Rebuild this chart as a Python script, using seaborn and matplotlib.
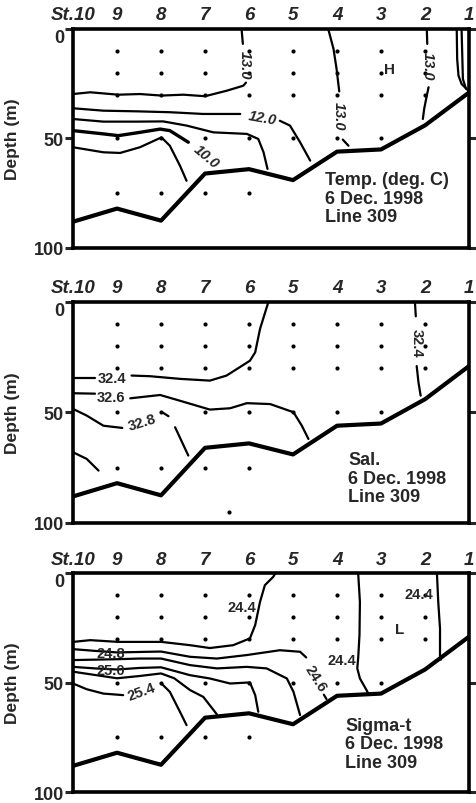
import matplotlib
matplotlib.use("Agg")
import matplotlib.pyplot as plt
import pandas as pd
import seaborn as sns

# ---------------- data ----------------
stations = [10, 9, 8, 7, 6, 5, 4, 3, 2, 1]
station_labels = ["St.10", "9", "8", "7", "6", "5", "4", "3", "2", "1"]
depth_ticks = [0, 50, 100]
bottom_depth = [88, 82, 87.5, 66, 64, 69, 56, 55, 44, 29]

sample_station = [9, 9, 9, 9, 9, 8, 8, 8, 8, 8, 7, 7, 7, 7, 7, 6, 6, 6, 6, 6,
                  5, 5, 5, 5, 4, 4, 4, 4, 3, 3, 3, 3, 2, 2, 2]
sample_depth = [10, 20, 30, 50, 75, 10, 20, 30, 50, 75, 10, 20, 30, 50, 75, 10, 20, 30, 50, 75,
                10, 20, 30, 50, 10, 20, 30, 50, 10, 20, 30, 50, 10, 20, 30]
sal_extra_station = [6.45]
sal_extra_depth = [95]

# Temperature contours (station position, depth m)
t13a_st = [10, 9.61, 8.97, 8.48, 7.99, 7.49, 7.0, 6.51, 6.13, 6.07]
t13a_d = [29.7, 28.9, 30.0, 29.7, 30.4, 30.0, 30.7, 28.2, 25.9, 24.5]
t13b_st = [6.14, 6.17]
t13b_d = [6.8, 0]
t13c_st = [4.2, 4.08, 4.01, 3.95]
t13c_d = [0, 9.1, 18.3, 28.5]
t13d_st = [3.87, 3.74]
t13d_d = [50.5, 53.3]
t13e_st = [1.96, 1.95]
t13e_d = [0, 6.8]
t13f_st = [1.92, 1.96, 2.02, 2.05]
t13f_d = [26.6, 30.4, 36.5, 41.1]
t_edge1_st = [1.28, 1.27, 1.24, 1.17, 1.07, 1.0]
t_edge1_d = [0, 13.7, 21.3, 25.1, 27.1, 28.5]
t_edge2_st = [1.17, 1.14, 1.07]
t_edge2_d = [0, 22.8, 27.3]
t12a_st = [10, 9.31, 8.55, 7.8, 7.04, 6.2]
t12a_d = [36.2, 37.3, 37.6, 38.0, 38.8, 38.8]
t12b_st = [5.3, 5.07, 4.84, 4.61]
t12b_d = [41.9, 44.1, 51.7, 60.1]
t11_st = [10, 9.31, 8.55, 7.95, 7.42, 6.81, 6.05, 5.79, 5.67, 5.58]
t11_d = [41.1, 42.3, 42.3, 42.2, 44.1, 47.2, 47.9, 50.2, 56.3, 63.9]
t10_st = [10, 9.31, 8.97, 8.48, 8.02, 7.8, 7.38]
t10_d = [46.4, 47.9, 48.7, 47.2, 45.7, 46.4, 51.7]
t9_st = [10, 9.31, 8.93, 8.48, 7.99, 7.8, 7.57, 7.42]
t9_d = [54.0, 56.3, 56.6, 54.0, 49.5, 53.3, 62.4, 69.3]

temp_label_text = ["13.0", "13.0", "13.0", "12.0", "10.0", "H"]
temp_label_st = [6.1, 3.96, 1.94, 5.69, 6.98, 2.8]
temp_label_d = [16, 39.6, 16.7, 40.4, 58.2, 18.3]

# Salinity contours
s324a_st = [10, 9.5]
s324a_d = [34.2, 34.2]
s324b_st = [8.67, 8.25, 7.57, 6.89, 6.51, 5.98, 5.86, 5.75, 5.56]
s324b_d = [33.3, 33.6, 34.8, 35.6, 33.3, 26.6, 22.8, 12.2, 0]
s326a_st = [10, 9.5]
s326a_d = [41.3, 41.5]
s326b_st = [8.7, 8.02, 7.57, 6.89, 6.43, 6.05, 5.52, 4.99, 4.8, 4.65]
s326b_d = [43.6, 42.1, 44.7, 48.7, 48.1, 45.8, 46.2, 49.9, 56.0, 62.0]
s328a_st = [10, 9.69, 9.31, 8.88]
s328a_d = [48.4, 51.4, 56.0, 57.0]
s328b_st = [7.95, 7.83]
s328b_d = [50.2, 51.7]
s328c_st = [7.68, 7.38]
s328c_d = [56.7, 69.5]
s330_st = [10, 9.69, 9.42]
s330_d = [68.0, 71.0, 76.3]
s324c_st = [2.23, 2.21]
s324c_d = [0, 6.5]
s324d_st = [2.19, 2.15, 2.1]
s324d_d = [29.0, 36.3, 42.4]

sal_label_text = ["32.4", "32.6", "32.8", "32.4"]
sal_label_st = [9.12, 9.14, 8.42, 2.19]
sal_label_d = [34.2, 42.8, 54.1, 18.2]

# Sigma-t contours
g244a_st = [10, 9.61, 8.97, 7.99, 7.34, 6.89, 6.36, 5.98, 5.86, 5.75, 5.64, 5.45, 5.4]
g244a_d = [31.4, 30.6, 31.4, 31.4, 32.9, 34.2, 32.9, 29.8, 23.7, 13.1, 5.5, 1.7, 0]
g244b_st = [3.52, 3.48, 3.49, 3.52, 3.54, 3.48, 3.33, 3.29]
g244b_d = [0, 13.1, 28.3, 38.9, 43.5, 48.1, 53.4, 55.0]
g244c_st = [1.73, 1.70, 1.66, 1.66, 1.64]
g244c_d = [0, 13.1, 25.3, 37.4, 39.5]
g246a_st = [10, 9.5, 9.0, 8.5, 8.0, 7.34, 6.73, 6.05, 5.3, 4.84, 4.7]
g246a_d = [34.7, 35.5, 36.2, 36.0, 35.8, 38.2, 39.0, 37.4, 35.2, 35.9, 38.5]
g246b_st = [4.3, 4.24]
g246b_d = [55.5, 57.5]
g248_st = [10, 9.5, 9.0, 8.5, 8.0, 7.34, 6.73, 6.05, 5.6, 5.14, 4.99, 4.84]
g248_d = [39.7, 39.5, 39.3, 39.0, 39.0, 42.0, 43.5, 42.8, 43.5, 48.1, 54.2, 64.8]
g250_st = [10, 9.5, 9.0, 8.5, 8.0, 7.34, 6.89, 6.43, 5.98, 5.86, 5.79]
g250_d = [42.8, 43.5, 44.0, 43.3, 43.0, 46.6, 48.1, 50.4, 49.9, 55.7, 63.3]
g252_st = [10, 9.5, 9.0, 8.5, 8.0, 7.7, 7.34, 7.04, 6.73]
g252_d = [45.0, 46.5, 48.0, 47.0, 45.8, 48.0, 53.4, 56.5, 64.5]
g254a_st = [10, 9.69, 9.31, 8.86]
g254a_d = [50.4, 53.0, 55.0, 55.7]
g254b_st = [7.99, 7.8, 7.57, 7.42]
g254b_d = [50.4, 54.2, 63.3, 69.4]

sig_label_text = ["24.4", "24.4", "24.4", "24.8", "25.0", "25.4", "24.6", "L"]
sig_label_st = [6.16, 3.9, 2.14, 9.15, 9.15, 8.44, 4.5, 2.57]
sig_label_d = [15.3, 39.7, 9.6, 36.6, 44.3, 53.9, 48.0, 25.3]

titles = ["Temp. (deg. C)\n6 Dec. 1998\nLine 309",
          "Sal.\n6 Dec. 1998\nLine 309",
          "Sigma-t\n6 Dec. 1998\nLine 309"]

# ---------------- styling ----------------
sns.set_style("white")
plt.rcParams["font.family"] = ["Liberation Sans", "DejaVu Sans"]
plt.rcParams["font.weight"] = "bold"


def seg_frame(segs):
    rows = []
    for i, (xs, ds) in enumerate(segs):
        for x, d in zip(xs, ds):
            rows.append({"seg": i, "station": x, "depth": d})
    return pd.DataFrame(rows)


panels = [
    dict(pos=(0.1534, 0.6903, 0.832, 0.2724),
         thin=[(t13a_st, t13a_d), (t13b_st, t13b_d), (t13c_st, t13c_d), (t13d_st, t13d_d),
               (t13e_st, t13e_d), (t13f_st, t13f_d), (t_edge1_st, t_edge1_d),
               (t_edge2_st, t_edge2_d), (t12a_st, t12a_d), (t12b_st, t12b_d),
               (t11_st, t11_d), (t9_st, t9_d)],
         thick=[(t10_st, t10_d)],
         labels=(temp_label_text, temp_label_st, temp_label_d),
         rots=[-90, -90, -90, -10, -40, 0],
         styles=["italic", "italic", "italic", "italic", "italic", "normal"],
         sizes=[10.5, 10.5, 10.5, 10.5, 10.5, 11],
         title_xy=(4.27, 65.0), extra=None),
    dict(pos=(0.1534, 0.3483, 0.832, 0.2749),
         thin=[(s324a_st, s324a_d), (s324b_st, s324b_d), (s326a_st, s326a_d),
               (s326b_st, s326b_d), (s328a_st, s328a_d), (s328b_st, s328b_d),
               (s328c_st, s328c_d), (s330_st, s330_d), (s324c_st, s324c_d),
               (s324d_st, s324d_d)],
         thick=[],
         labels=(sal_label_text, sal_label_st, sal_label_d),
         rots=[0, 0, 17, -90],
         styles=["normal"] * 4,
         sizes=[10.5] * 4,
         title_xy=(3.75, 67.5), extra=(sal_extra_station, sal_extra_depth)),
    dict(pos=(0.1534, 0.0135, 0.832, 0.2724),
         thin=[(g244a_st, g244a_d), (g244b_st, g244b_d), (g244c_st, g244c_d),
               (g246a_st, g246a_d), (g246b_st, g246b_d), (g248_st, g248_d),
               (g250_st, g250_d), (g252_st, g252_d), (g254a_st, g254a_d),
               (g254b_st, g254b_d)],
         thick=[],
         labels=(sig_label_text, sig_label_st, sig_label_d),
         rots=[0, 0, 0, 0, 0, 20, -58, 0],
         styles=["normal"] * 8,
         sizes=[10.5, 10.5, 10.5, 10.5, 10.5, 10.5, 10.5, 11],
         title_xy=(3.82, 65.5), extra=None),
]

fig = plt.figure(figsize=(4.76, 8.04), dpi=100)
bottom_df = pd.DataFrame({"station": stations, "depth": bottom_depth})
sample_df = pd.DataFrame({"station": sample_station, "depth": sample_depth})

for k, p in enumerate(panels):
    ax = fig.add_axes(p["pos"])
    sns.lineplot(data=seg_frame(p["thin"]), x="station", y="depth", units="seg",
                 estimator=None, sort=False, color="black", linewidth=1.6, ax=ax,
                 legend=False)
    if p["thick"]:
        sns.lineplot(data=seg_frame(p["thick"]), x="station", y="depth", units="seg",
                     estimator=None, sort=False, color="black", linewidth=2.4, ax=ax,
                     legend=False)
    sns.lineplot(data=bottom_df, x="station", y="depth", sort=False, estimator=None,
                 color="black", linewidth=3.0, ax=ax)
    sns.scatterplot(data=sample_df, x="station", y="depth", color="black", s=9,
                    linewidth=0, ax=ax)
    if p["extra"] is not None:
        sns.scatterplot(x=p["extra"][0], y=p["extra"][1], color="black", s=9,
                        linewidth=0, ax=ax)

    texts, xs, ds = p["labels"]
    for t, x, d, r, st, fs in zip(texts, xs, ds, p["rots"], p["styles"], p["sizes"]):
        ax.text(x, d, t, rotation=r, ha="center", va="center", fontsize=fs,
                fontweight="bold", fontstyle=st, rotation_mode="anchor")

    ax.text(p["title_xy"][0], p["title_xy"][1], titles[k], ha="left", va="top",
            fontsize=13, fontweight="bold", linespacing=1.12)

    ax.set_xlim(10, 1)
    ax.set_ylim(100, 0)
    ax.xaxis.tick_top()
    ax.set_xticks(stations)
    ax.set_xticklabels(station_labels, fontsize=13.5, fontweight="bold",
                       fontstyle="italic")
    ax.tick_params(axis="x", length=0, pad=4)
    ax.set_yticks(depth_ticks)
    ylabels = ax.set_yticklabels([str(v) for v in depth_ticks], fontsize=13,
                                 fontweight="bold")
    ylabels[0].set_verticalalignment("top")
    ax.tick_params(axis="y", left=True, right=True, direction="out", length=6,
                   width=2.2, pad=0.5)
    ax.set_xlabel("")
    ax.set_ylabel("Depth (m)", fontsize=12.5, fontweight="bold")
    ax.yaxis.set_label_coords(-0.135, 0.5)
    for sp in ax.spines.values():
        sp.set_linewidth(2.6)
        sp.set_color("black")

fig.savefig("out.png", dpi=100)
